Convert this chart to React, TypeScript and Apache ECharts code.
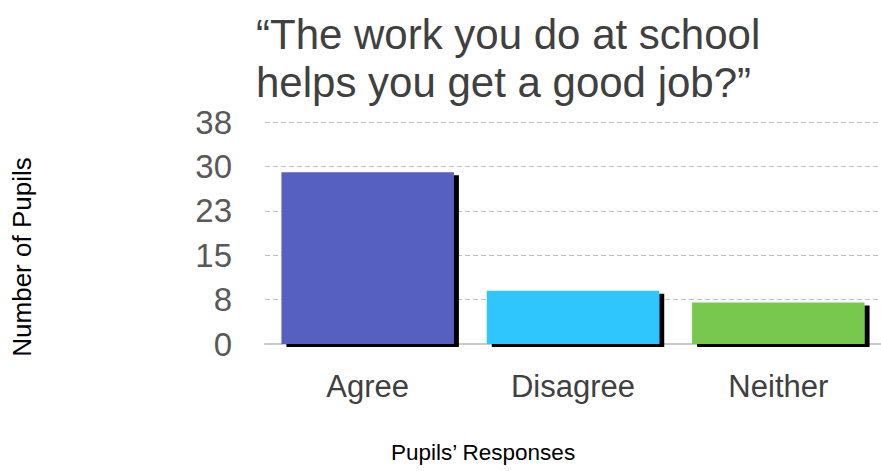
import React, { useEffect, useRef } from "react";
import * as echarts from "echarts";

const categories = ["Agree", "Disagree", "Neither"];
const values = [29, 9, 7];
const barColors = ["#5661c1", "#2dc6fd", "#78c850"];
const titleText = "“The work you do at school\nhelps you get a good job?”";
const xAxisName = "Pupils’ Responses";
const yAxisName = "Number of Pupils";
const yMin = 0;
const yMax = 37.5;
const yInterval = 7.5;

const FONT = "'Liberation Sans', Arial, sans-serif";

export default function App() {
  const ref = useRef<HTMLDivElement>(null);
  useEffect(() => {
    if (!ref.current) return;
    const chart = echarts.init(ref.current, null, { renderer: "svg" });
    chart.setOption({
      animation: false,
      backgroundColor: "#ffffff",
      grid: { left: 265, top: 122, width: 624, height: 222, containLabel: false },
      xAxis: {
        type: "category",
        data: categories,
        axisLine: { show: true, lineStyle: { color: "#c8c8c8", width: 2 } },
        axisTick: { show: false },
        axisLabel: {
          fontFamily: FONT,
          fontSize: 31,
          color: "#404040",
          margin: 27,
        },
      },
      yAxis: {
        type: "value",
        min: yMin,
        max: yMax,
        interval: yInterval,
        axisLine: { show: false },
        axisTick: { show: false },
        splitLine: { lineStyle: { color: "#bdbdbd", type: [5, 3], width: 1 } },
        axisLabel: {
          fontFamily: FONT,
          fontSize: 33,
          color: "#595959",
          margin: 33,
          formatter: (v: number) => String(Math.round(v)),
        },
      },
      series: [
        {
          type: "bar",
          barCategoryGap: "16%",
          data: values.map((v, i) => ({
            value: v,
            itemStyle: { color: barColors[i] },
          })),
          itemStyle: {
            shadowColor: "#000000",
            shadowOffsetX: 5,
            shadowOffsetY: 3,
            shadowBlur: 0,
          },
        },
      ],
      graphic: [
        {
          type: "text",
          x: 256,
          y: 10,
          style: {
            text: titleText,
            fontFamily: FONT,
            fontSize: 42,
            lineHeight: 48,
            fill: "#404040",
            textAlign: "left",
            textVerticalAlign: "top",
          },
        },
        {
          type: "text",
          x: 483,
          y: 452,
          style: {
            text: xAxisName,
            fontFamily: FONT,
            fontSize: 22.5,
            fill: "#000000",
            textAlign: "center",
            textVerticalAlign: "middle",
          },
        },
        {
          type: "text",
          x: 22,
          y: 257,
          rotation: Math.PI / 2,
          style: {
            text: yAxisName,
            fontFamily: FONT,
            fontSize: 26,
            fill: "#000000",
            textAlign: "center",
            textVerticalAlign: "middle",
          },
        },
      ],
    });
    return () => chart.dispose();
  }, []);
  return (
    <div
      ref={ref}
      style={{ position: "fixed", left: 0, top: 0, width: 881, height: 471 }}
    />
  );
}
